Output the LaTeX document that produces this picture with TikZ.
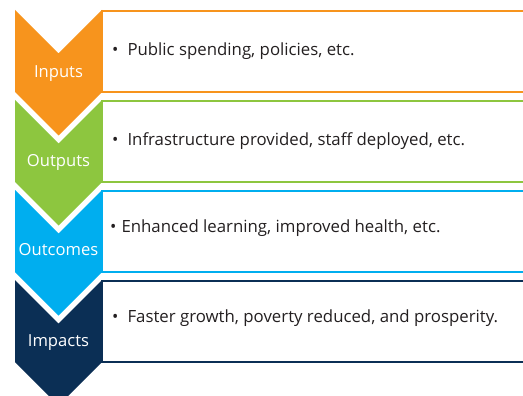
\documentclass[tikz,border=0pt]{standalone}
\usepackage{fontspec}
\setmainfont{Open Sans}
\definecolor{cIn}{HTML}{F7941D}
\definecolor{cOut}{HTML}{8DC63F}
\definecolor{cOc}{HTML}{00AEEF}
\definecolor{cIm}{HTML}{0B2F55}
\definecolor{txt}{HTML}{231F20}
\begin{document}
\begin{tikzpicture}[x=1pt,y=-1pt,
  textbox/.style={line width=2.2pt},
  lab/.style={text=white,font=\fontsize{16.6}{19}\selectfont,anchor=base,inner sep=0pt},
  item/.style={text=txt,font=\fontsize{16.8}{19}\selectfont,anchor=base west,inner sep=0pt}]
\useasboundingbox (0,0) rectangle (523,396);
\clip (0,0) rectangle (523,396);
\foreach \T/\c in {10/cIn,100/cOut,190/cOc,280/cIm}{
  \draw[textbox,draw=\c] (102,\T+1) rectangle (540,\T+82);
  \fill[\c] (15,\T) -- (58.5,\T+43.5) -- (102,\T) -- (102,\T+82) -- (58.5,\T+125.5) -- (15,\T+82) -- cycle;
}
\node[lab] (lIn) at (58.5,78) {Inputs};
\node[lab] (lOut) at (58.5,167) {Outputs};
\node[lab] (lOc) at (58.5,255) {Outcomes};
\node[lab] (lIm) at (58.5,346) {Impacts};
\node[item] (tIn) at (112,56) {•\hspace{9pt}Public spending, policies, etc.};
\node[item] (tOut) at (112,146) {•\hspace{9pt}Infrastructure provided, staff deployed, etc.};
\node[item] (tOc) at (110,233) {•\hspace{5pt}Enhanced learning, improved health, etc.};
\node[item] (tIm) at (112,322) {•\hspace{9pt}Faster growth, poverty reduced, and prosperity.};
\end{tikzpicture}
\end{document}
